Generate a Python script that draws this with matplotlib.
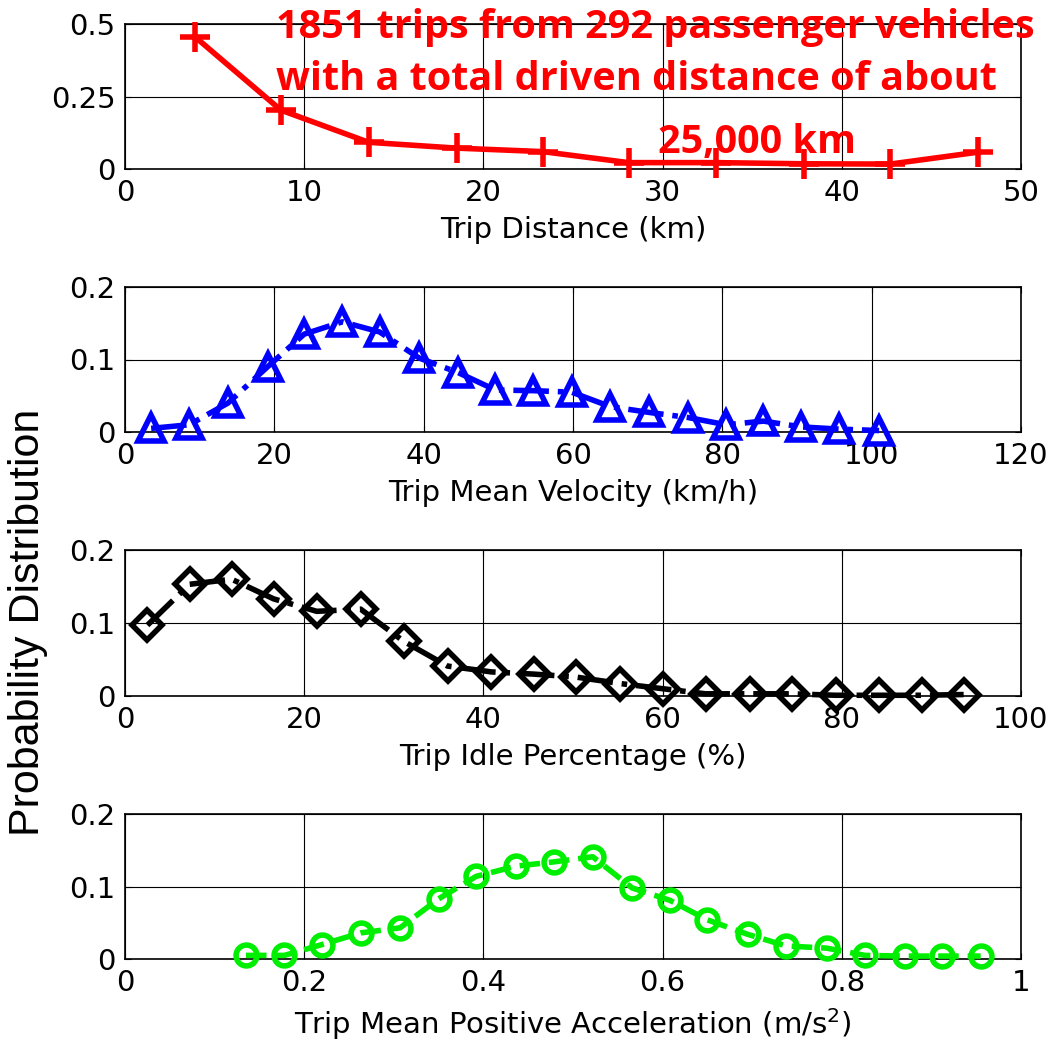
import numpy as np
import matplotlib
matplotlib.use('Agg')
import matplotlib.pyplot as plt

# trip distance (km)
dist_x = [3.9, 8.7, 13.6, 18.5, 23.3, 28.1, 33.0, 37.9, 42.7, 47.6]
dist_p = [0.456, 0.203, 0.092, 0.072, 0.060, 0.022, 0.022, 0.018, 0.017, 0.058]

# trip mean velocity (km/h)
vel_x = [3.5, 8.6, 13.8, 19.1, 24.0, 29.1, 34.1, 39.4, 44.6, 49.6,
         54.7, 59.8, 65.0, 70.2, 75.4, 80.5, 85.5, 90.6, 95.6, 101.0]
vel_p = [0.005, 0.010, 0.040, 0.090, 0.135, 0.152, 0.138, 0.102, 0.082, 0.058,
         0.057, 0.055, 0.035, 0.027, 0.020, 0.010, 0.015, 0.007, 0.004, 0.002]

# trip idle percentage (%)
idle_x = [2.5, 7.2, 11.9, 16.6, 21.4, 26.3, 31.1, 36.0, 40.9, 45.6,
          50.3, 55.3, 60.0, 64.8, 69.7, 74.4, 79.3, 84.1, 88.9, 93.6]
idle_p = [0.097, 0.153, 0.160, 0.133, 0.116, 0.119, 0.075, 0.041, 0.033, 0.030,
          0.026, 0.017, 0.010, 0.003, 0.003, 0.003, 0.001, 0.001, 0.001, 0.002]

# trip mean positive acceleration (m/s^2)
acc_x = [0.135, 0.178, 0.220, 0.263, 0.307, 0.350, 0.392, 0.436, 0.479, 0.522,
         0.566, 0.608, 0.650, 0.695, 0.738, 0.783, 0.826, 0.870, 0.912, 0.955]
acc_p = [0.005, 0.005, 0.020, 0.036, 0.043, 0.083, 0.114, 0.128, 0.134, 0.141,
         0.098, 0.081, 0.054, 0.034, 0.018, 0.015, 0.005, 0.004, 0.004, 0.004]

W, H = 1048, 1054
fig = plt.figure(figsize=(W/100, H/100), dpi=100)

def box(top, bot, left=125, right=1021):
    return [left/W, 1-bot/H, (right-left)/W, (bot-top)/H]

panels = [
    (dist_x, dist_p, 'r', '-', '+', 'Trip Distance (km)', (0, 50), np.arange(0, 51, 10), [0, 0.25, 0.5], ['0', '0.25', '0.5'], (0, 0.5), 24, 169),
    (vel_x, vel_p, 'b', '-.', '^', 'Trip Mean Velocity (km/h)', (0, 120), np.arange(0, 121, 20), [0, 0.1, 0.2], ['0', '0.1', '0.2'], (0, 0.2), 287, 432),
    (idle_x, idle_p, 'k', '-.', 'D', 'Trip Idle Percentage (%)', (0, 100), np.arange(0, 101, 20), [0, 0.1, 0.2], ['0', '0.1', '0.2'], (0, 0.2), 550, 696),
    (acc_x, acc_p, '#00ee00', '--', 'o', 'Trip Mean Positive Acceleration (m/s$^2$)', (0, 1), [0, 0.2, 0.4, 0.6, 0.8, 1], [0, 0.1, 0.2], ['0', '0.1', '0.2'], (0, 0.2), 814, 959),
]
xtl = [None, None, None, ['0', '0.2', '0.4', '0.6', '0.8', '1']]

for i, (x, y, c, ls, mk, lab, xl, xt, yt, ytl, yl, top, bot) in enumerate(panels):
    ax = fig.add_axes(box(top, bot))
    ms = {'+': 22, '^': 19, 'D': 15, 'o': 15}[mk]
    ax.plot(x, y, color=c, ls=ls, lw=4, marker=mk, ms=ms, mfc='none',
            mec=c, mew=4, clip_on=False, zorder=3)
    ax.set_xlim(*xl)
    ax.set_ylim(*yl)
    ax.set_xticks(xt)
    if xtl[i]:
        ax.set_xticklabels(xtl[i])
    ax.set_yticks(yt)
    ax.set_yticklabels(ytl)
    ax.grid(True, color='k', lw=0.8)
    ax.tick_params(direction='in', labelsize=21, length=4, top=True, right=True, pad=7)
    ax.set_xlabel(lab, fontsize=21, labelpad=7)
    for s in ax.spines.values():
        s.set_linewidth(1.2)

fig.text(28/W, 1-622/H, 'Probability Distribution', rotation=90, fontsize=31,
         family='Liberation Sans', ha='center', va='center')

red = dict(color='#ff0000', fontsize=28.5, fontweight='bold', family=['Open Sans', 'DejaVu Sans'], va='baseline', ha='left')
fig.text(276/W, 1-38/H, '1851 trips from 292 passenger vehicles', **red)
fig.text(276/W, 1-90/H, 'with a total driven distance of about', **red)
fig.text(658/W, 1-153/H, '25,000 km', **red)

fig.savefig('out.png', dpi=100)
